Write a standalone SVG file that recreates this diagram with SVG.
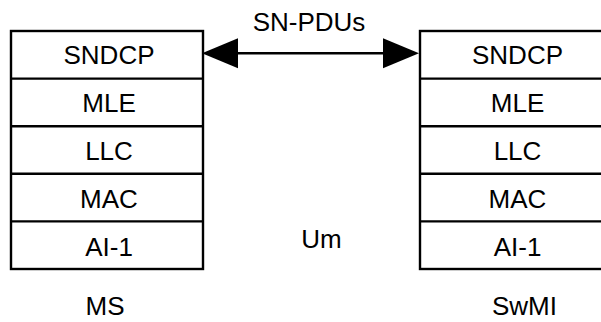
<svg xmlns="http://www.w3.org/2000/svg" width="601" height="322" viewBox="0 0 601 322">
<style>
.box{fill:#fff;stroke:#000;stroke-width:2.4}
.t{font-family:"Liberation Sans",Arial,sans-serif;font-size:26px;fill:#000;text-anchor:middle}
.ln{stroke:#000;stroke-width:2.4;fill:none}
.ah{fill:#000}
</style>
<rect width="601" height="322" fill="#fff"/>
<g id="ms-stack">
<rect class="box" x="11" y="31" width="192" height="238"/>
<line class="ln" x1="11" y1="78.6" x2="203" y2="78.6"/>
<line class="ln" x1="11" y1="126.2" x2="203" y2="126.2"/>
<line class="ln" x1="11" y1="173.8" x2="203" y2="173.8"/>
<line class="ln" x1="11" y1="221.4" x2="203" y2="221.4"/>
<text class="t" x="109" y="64">SNDCP</text>
<text class="t" x="109" y="112">MLE</text>
<text class="t" x="109" y="160">LLC</text>
<text class="t" x="109" y="208">MAC</text>
<text class="t" x="109" y="256">AI-1</text>
</g>
<g id="swmi-stack">
<rect class="box" x="420" y="31" width="192" height="238"/>
<line class="ln" x1="420" y1="78.6" x2="612" y2="78.6"/>
<line class="ln" x1="420" y1="126.2" x2="612" y2="126.2"/>
<line class="ln" x1="420" y1="173.8" x2="612" y2="173.8"/>
<line class="ln" x1="420" y1="221.4" x2="612" y2="221.4"/>
<text class="t" x="517.5" y="64">SNDCP</text>
<text class="t" x="517.5" y="112">MLE</text>
<text class="t" x="517.5" y="160">LLC</text>
<text class="t" x="517.5" y="208">MAC</text>
<text class="t" x="517.5" y="256">AI-1</text>
</g>
<g id="connectors">
<line class="ln" x1="236" y1="53.3" x2="386" y2="53.3"/>
<polygon class="ah" points="202,53.3 238,38.3 238,68.3"/>
<polygon class="ah" points="419,53.3 383,38.3 383,68.3"/>
</g>
<g id="labels">
<text class="t" x="309" y="31">SN-PDUs</text>
<text class="t" x="321.5" y="248">Um</text>
<text class="t" x="105" y="315">MS</text>
<text class="t" x="524.5" y="315">SwMI</text>
</g>
</svg>
